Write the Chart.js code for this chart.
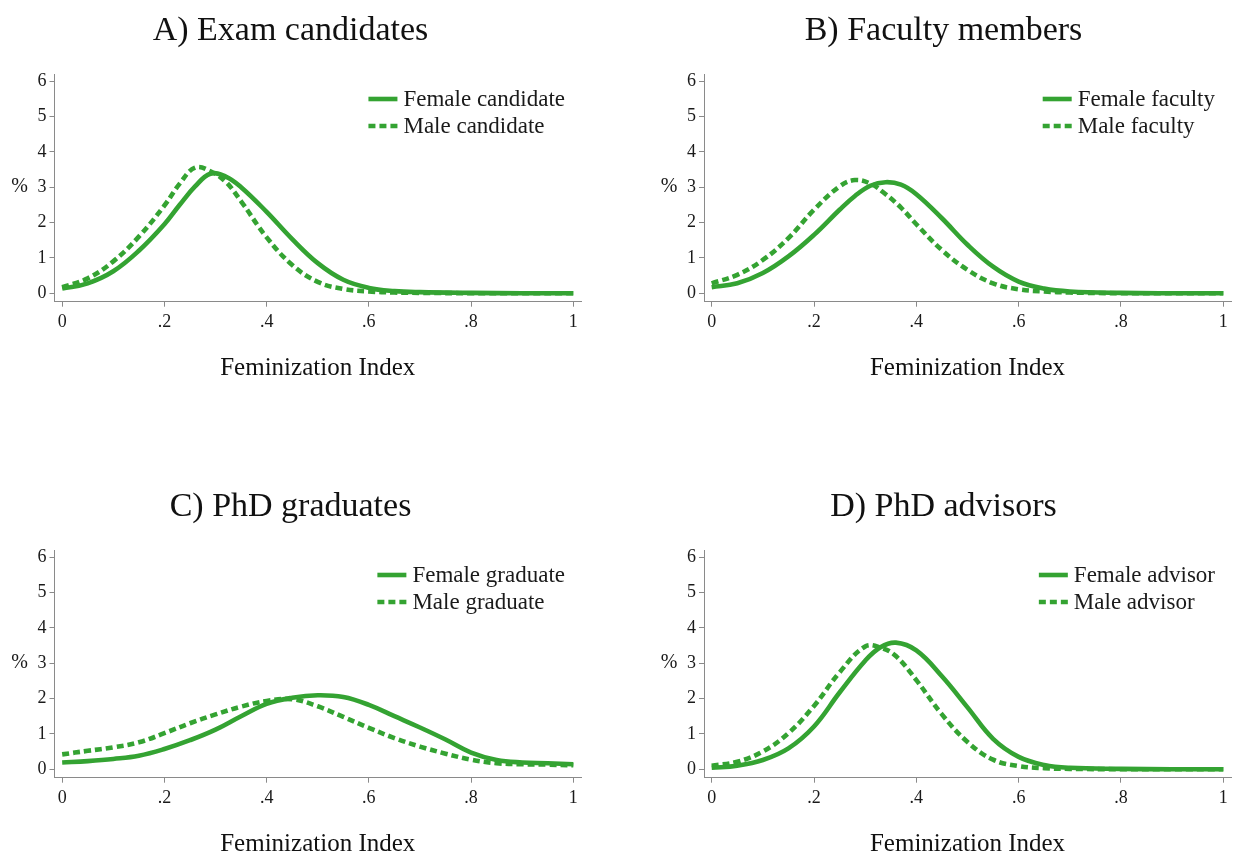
<!DOCTYPE html>
<html>
<head>
<meta charset="utf-8">
<script src="https://cdn.jsdelivr.net/npm/chart.js@4.4.1/dist/chart.umd.min.js"></script>
<style>
  body { margin: 0; background: #fff; width: 1233px; height: 855px; overflow: hidden; position: relative; }
  canvas { position: absolute; }
</style>
</head>
<body>
<canvas id="pA" width="592" height="400" style="left:0px;top:0px"></canvas>
<canvas id="pB" width="577" height="400" style="left:656px;top:0px"></canvas>
<canvas id="pC" width="592" height="379" style="left:0px;top:476px"></canvas>
<canvas id="pD" width="577" height="379" style="left:656px;top:476px"></canvas>
<script>
// === Data ===
const titles = ["A) Exam candidates", "B) Faculty members", "C) PhD graduates", "D) PhD advisors"];
const femaleLabels = ["Female candidate", "Female faculty", "Female graduate", "Female advisor"];
const maleLabels = ["Male candidate", "Male faculty", "Male graduate", "Male advisor"];
const xAxisTitle = "Feminization Index";
const yAxisTitle = "%";
const yTicks = [0, 1, 2, 3, 4, 5, 6];
const xTicks = [0, 0.2, 0.4, 0.6, 0.8, 1];
const xTickLabels = ["0", ".2", ".4", ".6", ".8", "1"];

// A) Exam candidates
const xsA     = [0, .05, .1, .15, .2, .23, .26, .29, .32, .35, .4, .45, .5, .55, .6, .65, .7, .8, .9, 1];
const femaleA = [0.13, 0.28, 0.62, 1.2, 1.95, 2.5, 3.02, 3.38, 3.3, 3.0, 2.3, 1.53, 0.85, 0.38, 0.15, 0.06, 0.03, 0.01, 0, 0];
const maleA   = [0.17, 0.42, 0.9, 1.6, 2.48, 3.1, 3.55, 3.45, 3.15, 2.6, 1.58, 0.8, 0.32, 0.12, 0.05, 0.02, 0.01, 0, 0, 0];

// B) Faculty members
const xsB     = [0, .05, .1, .15, .2, .25, .28, .31, .34, .37, .4, .45, .5, .55, .6, .65, .7, .8, .9, 1];
const femaleB = [0.17, 0.28, 0.57, 1.04, 1.65, 2.36, 2.75, 3.04, 3.14, 3.07, 2.8, 2.12, 1.37, 0.75, 0.33, 0.13, 0.05, 0.01, 0, 0];
const maleB   = [0.28, 0.52, 0.94, 1.56, 2.36, 3.02, 3.2, 3.1, 2.8, 2.42, 1.95, 1.22, 0.66, 0.28, 0.11, 0.05, 0.02, 0, 0, 0];

// C) PhD graduates
const xsC     = [0, .05, .1, .15, .2, .25, .3, .35, .4, .45, .5, .55, .6, .65, .7, .75, .8, .85, .9, .95, 1];
const femaleC = [0.19, 0.23, 0.29, 0.38, 0.57, 0.82, 1.12, 1.5, 1.85, 2.02, 2.09, 2.04, 1.82, 1.5, 1.18, 0.84, 0.47, 0.26, 0.19, 0.17, 0.14];
const maleC   = [0.42, 0.52, 0.62, 0.76, 1.02, 1.3, 1.55, 1.77, 1.93, 1.98, 1.78, 1.48, 1.17, 0.88, 0.64, 0.44, 0.27, 0.17, 0.14, 0.13, 0.11];

// D) PhD advisors
const xsD     = [0, .05, .1, .15, .2, .25, .3, .33, .36, .4, .45, .5, .55, .6, .65, .7, .8, .9, 1];
const femaleD = [0.04, 0.1, 0.26, 0.59, 1.21, 2.17, 3.07, 3.45, 3.58, 3.36, 2.63, 1.75, 0.86, 0.35, 0.12, 0.04, 0.01, 0, 0];
const maleD   = [0.1, 0.21, 0.5, 1.02, 1.79, 2.74, 3.47, 3.44, 3.2, 2.52, 1.55, 0.77, 0.27, 0.09, 0.03, 0.01, 0, 0, 0];

// === Style ===
const green = "#34a332";
const serif = "'Liberation Serif', 'Times New Roman', serif";
const axisGray = "#8a8a8a";

// legend + "%" drawn inside the plot, Stata style
const panelDecor = {
  id: "panelDecor",
  afterDatasetsDraw(chart) {
    const { ctx, chartArea } = chart;
    const yScale = chart.scales.y;
    ctx.save();
    ctx.fillStyle = "#1a1a1a";
    ctx.font = "20px " + serif;
    ctx.textAlign = "center";
    ctx.textBaseline = "middle";
    ctx.fillText(yAxisTitle, chartArea.left - 35, yScale.getPixelForValue(3));

    ctx.font = "23px " + serif;
    const ds = chart.data.datasets;
    const textW = Math.max(...ds.map(d => ctx.measureText(d.label).width));
    const textX = chartArea.right - 16 - textW;
    ds.forEach((d, i) => {
      const y = chartArea.top + 25 + i * 27;
      ctx.beginPath();
      ctx.setLineDash(d.borderDash || []);
      ctx.lineWidth = d.borderWidth;
      ctx.strokeStyle = d.borderColor;
      ctx.moveTo(textX - 35, y);
      ctx.lineTo(textX - 6, y);
      ctx.stroke();
      ctx.setLineDash([]);
      ctx.textAlign = "left";
      ctx.fillText(d.label, textX, y + 1);
    });
    ctx.restore();
  }
};

function toPoints(xs, ys) {
  return xs.map((x, i) => ({ x: x, y: ys[i] }));
}

function makePanel(id, idx, xs, female, male, yWidth, padRight, padBottom) {
  const ctx = document.getElementById(id).getContext("2d");
  return new Chart(ctx, {
    type: "line",
    data: {
      datasets: [{
        label: femaleLabels[idx],
        data: toPoints(xs, female),
        borderColor: green,
        borderWidth: 4.6,
        pointRadius: 0,
        tension: 0.4,
        fill: false
      }, {
        label: maleLabels[idx],
        data: toPoints(xs, male),
        borderColor: green,
        borderWidth: 4.6,
        borderDash: [7, 4],
        pointRadius: 0,
        tension: 0.4,
        fill: false
      }]
    },
    options: {
      responsive: false,
      animation: false,
      layout: { padding: { left: 0, right: padRight, top: 0, bottom: padBottom } },
      plugins: {
        legend: { display: false },
        tooltip: { enabled: false },
        title: {
          display: true,
          text: titles[idx],
          color: "#111",
          font: { family: serif, size: 34, weight: "normal", lineHeight: 1.2 },
          padding: { top: 10.6, bottom: 22.6 }
        }
      },
      scales: {
        x: {
          type: "linear",
          min: -0.015,
          max: 1.015,
          afterBuildTicks: s => { s.ticks = xTicks.map(v => ({ value: v })); },
          afterFit: s => { s.height = 77.3; },
          ticks: {
            callback: (v, i) => xTickLabels[i],
            color: "#1a1a1a",
            font: { family: serif, size: 18 },
            padding: 5,
            maxRotation: 0,
            autoSkip: false
          },
          grid: { drawOnChartArea: false, drawTicks: true, tickLength: 5, color: axisGray },
          border: { display: true, color: axisGray, width: 1 },
          title: {
            display: true,
            text: xAxisTitle,
            color: "#111",
            font: { family: serif, size: 25, lineHeight: 0.85 },
            padding: 0
          }
        },
        y: {
          type: "linear",
          min: -0.24,
          max: 6.2,
          afterBuildTicks: s => { s.ticks = yTicks.map(v => ({ value: v })); },
          afterFit: s => { s.width = yWidth; },
          ticks: {
            callback: v => String(v),
            color: "#1a1a1a",
            font: { family: serif, size: 18 },
            padding: 3,
            autoSkip: false
          },
          grid: { drawOnChartArea: false, drawTicks: true, tickLength: 5, color: axisGray },
          border: { display: true, color: axisGray, width: 1 }
        }
      }
    },
    plugins: [panelDecor]
  });
}

makePanel("pA", 0, xsA, femaleA, maleA, 54.5, 11, 21);
makePanel("pB", 1, xsB, femaleB, maleB, 48, 2, 21);
makePanel("pC", 2, xsC, femaleC, maleC, 54.5, 11, 0);
makePanel("pD", 3, xsD, femaleD, maleD, 48, 2, 0);
</script>
</body>
</html>
